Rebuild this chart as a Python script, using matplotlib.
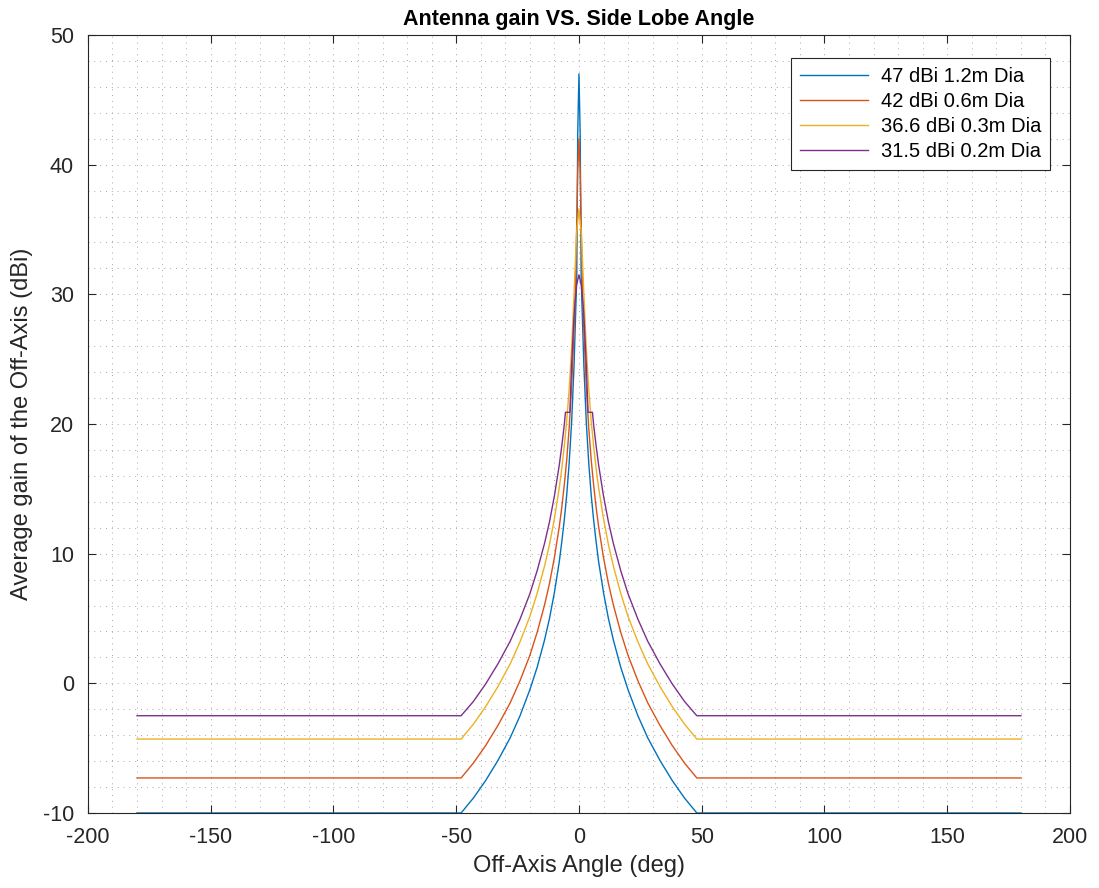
import numpy as np
import matplotlib
matplotlib.use("Agg")
import matplotlib.pyplot as plt
from matplotlib.ticker import MultipleLocator

plt.rcParams["font.family"] = ["Liberation Sans", "DejaVu Sans"]
plt.rcParams["axes.unicode_minus"] = False

# Off-axis angle (deg), positive half; the patterns are symmetric about 0
angle_47 = [0, 0.5, 0.9, 1.5, 2, 3, 4, 5, 6, 7, 8, 10, 12, 14, 17, 20, 24, 28, 33, 38, 43, 48, 180]
gain_47 = [47, 42.4, 31.3, 27.6, 24.5, 20.1, 16.95, 14.5, 12.55, 10.9, 9.4, 7.0, 5.0, 3.35, 1.25,
           -0.5, -2.5, -4.2, -5.95, -7.5, -8.85, -10.0, -10.0]

angle_42 = [0, 0.5, 1, 1.5, 2, 3, 4, 5, 6, 7, 8, 10, 12, 14, 17, 20, 24, 28, 33, 38, 43, 48, 180]
gain_42 = [42, 39.5, 34.5, 30.3, 27.2, 22.8, 19.65, 17.2, 15.25, 13.55, 12.1, 9.7, 7.7, 6.05, 3.95,
           2.15, 0.2, -1.5, -3.25, -4.8, -6.15, -7.3, -7.3]

angle_366 = [0, 1, 2, 3, 4, 5, 6, 7, 8, 10, 12, 14, 17, 20, 24, 28, 33, 38, 43, 48, 180]
gain_366 = [36.6, 34.6, 30.0, 25.8, 22.65, 20.2, 18.25, 16.55, 15.1, 12.7, 10.7, 9.05, 6.95,
            5.15, 3.2, 1.5, -0.25, -1.8, -3.15, -4.3, -4.3]

angle_315 = [0, 1, 2, 3, 3.7, 5.5, 6, 7, 8, 10, 12, 14, 17, 20, 24, 28, 33, 38, 43, 48, 180]
gain_315 = [31.5, 30.7, 28.4, 24.5, 20.9, 20.9, 19.9, 18.3, 16.85, 14.45, 12.45, 10.8, 8.7,
            6.9, 4.95, 3.25, 1.5, -0.05, -1.4, -2.5, -2.5]

labels = ["47 dBi 1.2m Dia", "42 dBi 0.6m Dia", "36.6 dBi 0.3m Dia", "31.5 dBi 0.2m Dia"]
colors = ["#0072BD", "#D95319", "#EDB120", "#7E2F8E"]


def mirror(angles, gains):
    a = np.asarray(angles, dtype=float)
    g = np.asarray(gains, dtype=float)
    return np.r_[-a[:0:-1], a], np.r_[g[:0:-1], g]


fig = plt.figure(figsize=(10.99, 8.88), dpi=100)
ax = fig.add_axes([0.080, 0.0845, 0.8936, 0.8761])

series = [(angle_47, gain_47), (angle_42, gain_42), (angle_366, gain_366), (angle_315, gain_315)]
for (a, g), lab, col in zip(series, labels, colors):
    x, y = mirror(a, g)
    ax.plot(x, y, color=col, lw=1.0, label=lab, clip_on=False)

ax.set_xlim(-200, 200)
ax.set_ylim(-10, 50)
ax.xaxis.set_major_locator(MultipleLocator(50))
ax.yaxis.set_major_locator(MultipleLocator(10))
ax.xaxis.set_minor_locator(MultipleLocator(10))
ax.yaxis.set_minor_locator(MultipleLocator(2))

ax.grid(True, which="both", color="#a8a8a8", linestyle=(0, (1, 5)), linewidth=0.7)
ax.set_axisbelow(True)
ax.tick_params(which="major", direction="in", length=6, width=0.8, color="#262626",
               top=True, right=True, labelsize=15.5, labelcolor="#262626", pad=10)
ax.tick_params(which="minor", length=0, top=True, right=True)
for s in ax.spines.values():
    s.set_color("#262626")
    s.set_linewidth(0.8)

ax.set_title("Antenna gain VS. Side Lobe Angle", fontsize=15.5, fontweight="bold", pad=7)
ax.set_xlabel("Off-Axis Angle (deg)", fontsize=17, color="#262626", labelpad=5)
ax.set_ylabel("Average gain of the Off-Axis (dBi)", fontsize=17, color="#262626", labelpad=7)

leg = ax.legend(loc="upper right", bbox_to_anchor=(0.9796, 0.9704), borderaxespad=0,
                fontsize=14.5, frameon=True, fancybox=False, edgecolor="#262626",
                framealpha=1, handlelength=3.4, handletextpad=0.6, borderpad=0.45,
                labelspacing=0.3)
leg.get_frame().set_linewidth(0.8)

fig.savefig("out.png", dpi=100)
